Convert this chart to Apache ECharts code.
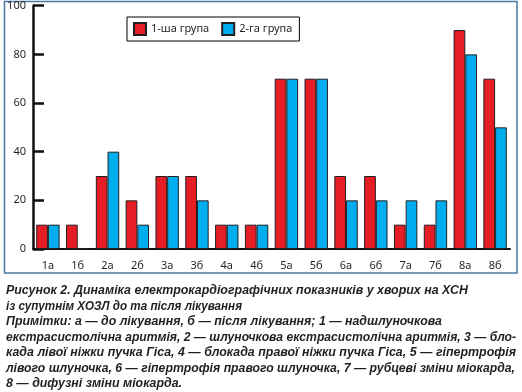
<!DOCTYPE html>
<html>
<head>
<meta charset="utf-8">
<script src="https://cdn.jsdelivr.net/npm/echarts@6/dist/echarts.min.js"></script>
<style>
html,body{margin:0;padding:0;background:#fff;}
#c{width:522px;height:392px;}
</style>
</head>
<body>
<div id="c"></div>
<script>
const categories = ['1а','1б','2а','2б','3а','3б','4а','4б','5а','5б','6а','6б','7а','7б','8а','8б'];
const group1 = [10,10,30,20,30,30,10,10,70,70,30,30,10,10,90,70];
const group2 = [10,0,40,10,30,20,10,10,70,70,20,20,20,20,80,50];
const seriesNames = ['1-ша група','2-га група'];
const yTicks = [0,20,40,60,80,100];
const captionLines = [
  'Рисунок 2. Динаміка електрокардіографічних показників у хворих на ХСН',
  'із супутнім ХОЗЛ до та після лікування',
  'Примітки: а — до лікування, б — після лікування; 1 — надшлуночкова',
  'екстрасистолічна аритмія, 2 — шлуночкова екстрасистолічна аритмія, 3 — бло-',
  'када лівої ніжки пучка Гіса, 4 — блокада правої ніжки пучка Гіса, 5 — гіпертрофія',
  'лівого шлуночка, 6 — гіпертрофія правого шлуночка, 7 — рубцеві зміни міокарда,',
  '8 — дифузні зміни міокарда.'
];
const captionLineEnds = [468, 242, 442, 516, 516, 515, 182];

const ink = '#231f20';
const labelFont = 'Noto Sans';
const capFont = 'italic bold 13px "Liberation Sans", sans-serif';
const chart = echarts.init(document.getElementById('c'), null, {renderer:'canvas'});

const capLeft = 6;
const mctx = document.createElement('canvas').getContext('2d');
mctx.font = capFont;

const graphics = [{
  type:'rect', shape:{x:4.5,y:1.5,width:512.5,height:271.5},
  style:{fill:null, stroke:'#4a78a4', lineWidth:1.5}, z:-1
}];
captionLines.forEach((t,i)=>{
  const ww = mctx.measureText(t).width;
  const sx = (captionLineEnds[i]-capLeft)/ww;
  graphics.push({
    type:'text', x:capLeft, y:284 + i*15.5, scaleX:sx, scaleY:1,
    style:{text:t, fill:ink, font:capFont}
  });
});

chart.setOption({
  animation:false,
  grid:{left:33, right:12, top:5.7, bottom:143},
  legend:{
    left:127, top:17, padding:[5,7,5,6],
    borderColor:'#000', borderWidth:1,
    itemWidth:12, itemHeight:12, itemGap:12,
    icon:'rect',
    textStyle:{fontFamily:labelFont, fontSize:11, color:ink},
    data:seriesNames
  },
  xAxis:{
    type:'category', data:categories,
    axisLine:{lineStyle:{color:'#111', width:2}},
    axisTick:{inside:true, length:4, lineStyle:{color:'#111', width:2}},
    axisLabel:{color:ink, fontFamily:labelFont, fontSize:11, margin:11}
  },
  yAxis:{
    type:'value', min:0, max:100, interval:20,
    splitLine:{show:false},
    axisLine:{show:true, lineStyle:{color:'#111', width:2.5}},
    axisTick:{show:true, inside:true, length:11, lineStyle:{color:'#111', width:2.5}},
    axisLabel:{color:ink, fontFamily:labelFont, fontSize:11, margin:7, padding:[9,0,0,0],
      formatter:v=>yTicks.includes(v)?String(v):''}
  },
  series:[
    {name:seriesNames[0], type:'bar', data:group1, barWidth:11.7, barGap:'0%',
     itemStyle:{color:'#e51e25', borderColor:ink, borderWidth:1}},
    {name:seriesNames[1], type:'bar', data:group2, barWidth:11.7, barGap:'0%',
     itemStyle:{color:'#00aeef', borderColor:ink, borderWidth:1}}
  ],
  graphic:graphics
});
</script>
</body>
</html>
